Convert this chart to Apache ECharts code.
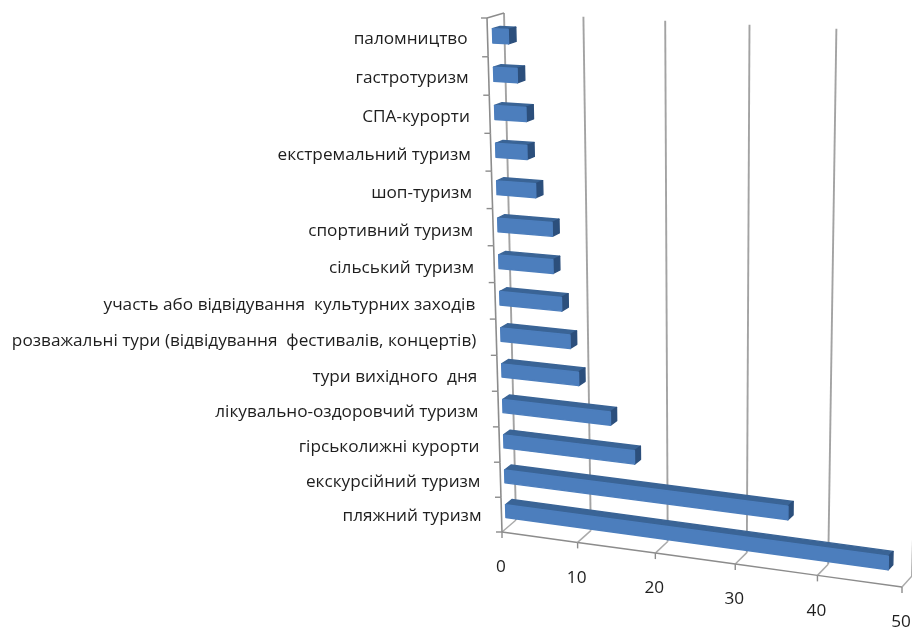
<!DOCTYPE html>
<html><head><meta charset="utf-8">
<style>html,body{margin:0;padding:0;background:#fff}#c{width:912px;height:628px}</style>
<script src="https://cdn.jsdelivr.net/npm/echarts@6/dist/echarts.min.js"></script>
</head><body><div id="c"></div>
<script>
const categories = ["паломництво ","гастротуризм ","СПА-курорти ","екстремальний туризм ","шоп-туризм ","спортивний туризм ","сільський туризм ","участь або відвідування  культурних заходів ","розважальні тури (відвідування  фестивалів, концертів) ","тури вихідного  дня ","лікувально-оздоровчий туризм","гірськолижні курорти","екскурсійний туризм","пляжний туризм"];
const values = [2,3,4,4,5,7,7,8,9,10,14,17,36,48];
const xTicks = [0,10,20,30,40,50];

// perspective of the box (corners of the chart's front and back planes)
const G = {left:100, top:50, width:500, height:500};
const frontQuad = [[487,18],[912,37],[902,587],[502,532]];
const backQuad  = [[504,13],[926,33],[912,576],[516,520]];
function homography(q){
  const [p0,p1,p2,p3]=q;
  const dx1=p1[0]-p2[0],dx2=p3[0]-p2[0],sx=p0[0]-p1[0]+p2[0]-p3[0];
  const dy1=p1[1]-p2[1],dy2=p3[1]-p2[1],sy=p0[1]-p1[1]+p2[1]-p3[1];
  const det=dx1*dy2-dx2*dy1;
  const g=(sx*dy2-dx2*sy)/det,h=(dx1*sy-sx*dy1)/det;
  const a=p1[0]-p0[0]+g*p1[0],b=p3[0]-p0[0]+h*p3[0],c=p0[0];
  const d=p1[1]-p0[1]+g*p1[1],e=p3[1]-p0[1]+h*p3[1],f=p0[1];
  return (u,v)=>{const w=g*u+h*v+1;return [(a*u+b*v+c)/w,(d*u+e*v+f)/w];};
}
const hF=homography(frontQuad),hB=homography(backQuad);
// screen position from a point of the flat grid and a depth (0 front, 1 back)
function project(pt,depth){
  const u=(pt[0]-G.left)/G.width,v=(pt[1]-G.top)/G.height;
  const a=hF(u,v),b=hB(u,v);
  return [a[0]+(b[0]-a[0])*depth,a[1]+(b[1]-a[1])*depth];
}
const BAR_D0=0.3,BAR_D1=0.75,BAR_FILL=0.37;
const poly=(pts,fill)=>({type:'polygon',shape:{points:pts},style:{fill:fill,stroke:fill,lineWidth:1.4,lineJoin:'round'}});
const line=(a,b,color,w)=>({type:'line',shape:{x1:a[0],y1:a[1],x2:b[0],y2:b[1]},style:{stroke:color,lineWidth:w,fill:null}});
const AXIS='#8c8c8c';
const FONT='17.2px "Open Sans"';

function renderFrame(params,api){
  const v=api.value(0);
  const top=[api.coord([v,0])[0],G.top],bot=[api.coord([v,0])[0],G.top+G.height];
  const children=[];
  const fb=project(bot,0),bb=project(bot,1);
  children.push(line(project(top,1),bb,'#a3a3a3',1.9));
  children.push(line(fb,bb,'#aaaaaa',1.5));
  children.push(line(fb,[fb[0],fb[1]+6],AXIS,1.4));
  if(params.dataIndex<xTicks.length-1){
    const nx=[api.coord([xTicks[params.dataIndex+1],0])[0],G.top+G.height];
    children.push(line(fb,project(nx,0),AXIS,1.5));
  }
  children.push({type:'text',style:{text:String(v),x:fb[0]-1,y:fb[1]+35.5,align:'center',verticalAlign:'middle',font:FONT,fill:'#1e1e1e'}});
  return {type:'group',children};
}
function renderCatFrame(params,api){
  const c=api.coord([0,api.value(1)]),h=api.size([0,1])[1];
  const children=[];
  const a=project([c[0],c[1]-h/2],0),b=project([c[0],c[1]+h/2],0);
  children.push(line(a,b,AXIS,1.6));
  children.push(line(a,[a[0]-6,a[1]],AXIS,1.4));
  if(params.dataIndex===0) children.push(line(a,project([c[0],c[1]-h/2],1),AXIS,1.4));
  if(params.dataIndex===categories.length-1) children.push(line(b,[b[0]-6,b[1]],AXIS,1.4));
  const i=params.dataIndex,m=project(c,0);
  children.push({type:'text',style:{text:categories[i].trim(),x:m[0]-20,y:m[1]+1+3*Math.sin(Math.PI*(i+.5)/categories.length),align:'right',verticalAlign:'middle',font:FONT,fill:'#1e1e1e'}});
  return {type:'group',children};
}
function renderBar(params,api){
  const v=api.value(0),c=api.value(1);
  const end=api.coord([v,c]),start=api.coord([0,c]);
  const h=api.size([0,1])[1]*BAR_FILL/2;
  const P=(x,y,d)=>project([x,y],d);
  const x0=start[0],x1=end[0],y0=end[1]-h,y1=end[1]+h;
  return {type:'group',children:[
    poly([P(x0,y0,BAR_D1),P(x1,y0,BAR_D1),P(x1,y0,BAR_D0),P(x0,y0,BAR_D0)],'#3a6496'),
    poly([P(x1,y0,BAR_D0),P(x1,y0,BAR_D1),P(x1,y1,BAR_D1),P(x1,y1,BAR_D0)],'#2c4f7c'),
    poly([P(x0,y0,BAR_D0),P(x1,y0,BAR_D0),P(x1,y1,BAR_D0),P(x0,y1,BAR_D0)],'#4c7ebd')
  ]};
}
const chart=echarts.init(document.getElementById('c'),null,{renderer:'canvas'});
chart.setOption({
  animation:false,
  backgroundColor:'#fff',
  grid:{left:G.left,top:G.top,width:G.width,height:G.height},
  xAxis:{type:'value',min:0,max:50,interval:10,show:false},
  yAxis:{type:'category',inverse:true,data:categories,show:false},
  series:[
    {type:'custom',clip:false,silent:true,z:1,renderItem:renderFrame,encode:{x:0},data:xTicks.map(v=>[v,0])},
    {type:'custom',clip:false,silent:true,z:1,renderItem:renderCatFrame,encode:{y:1},data:categories.map((n,i)=>[0,i])},
    {type:'custom',clip:false,silent:true,z:2,renderItem:renderBar,encode:{x:0,y:1},data:values.map((v,i)=>[v,i])}
  ]
});
</script></body></html>
